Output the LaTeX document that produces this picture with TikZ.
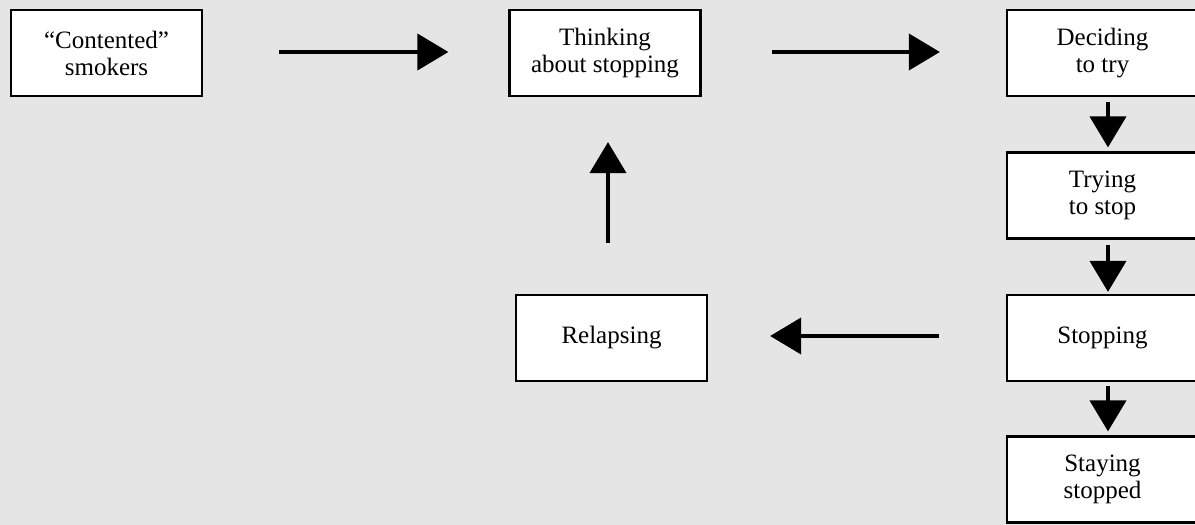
\documentclass[tikz,border=0pt]{standalone}
\usepackage{fontspec}
\setmainfont{Liberation Serif}
\usetikzlibrary{arrows.meta}
\definecolor{bg}{HTML}{E5E5E5}
\tikzset{
  stage/.style={draw=black, line width=2.2pt, fill=white, minimum width=191pt, minimum height=86pt,
    inner sep=0pt, align=center, font=\fontsize{25}{27}\selectfont},
  flow/.style={line width=4pt, -{Triangle[length=31pt,width=36pt]}}
}
\begin{document}
\begin{tikzpicture}[x=1pt,y=-1pt]
\fill[bg] (0,0) rectangle (1195,525);
\useasboundingbox (0,0) rectangle (1195,525);
\node[stage] (cont) at (106.5,53) {“Contented”\\smokers};
\node[stage] (think) at (605,53) {Thinking\\about stopping};
\node[stage] (decide) at (1102.5,53) {Deciding\\to try};
\node[stage] (trying) at (1102.5,195.5) {Trying\\to stop};
\node[stage] (stop) at (1102.5,338) {Stopping};
\node[stage] (stay) at (1102.5,479.5) {Staying\\stopped};
\node[stage] (relapse) at (611.5,338) {Relapsing};
\draw[flow, shorten <=76pt, shorten >=60pt] ([yshift=1pt]cont.east) -- ([yshift=1pt]think.west);
\draw[flow, shorten <=70pt, shorten >=66pt] ([yshift=1pt]think.east) -- ([yshift=1pt]decide.west);
\draw[flow, shorten <=5pt, shorten >=4pt] ([xshift=5.5pt]decide.south) -- ([xshift=5.5pt]trying.north);
\draw[flow, shorten <=5pt, shorten >=2pt] ([xshift=5.5pt]trying.south) -- ([xshift=5.5pt]stop.north);
\draw[flow, shorten <=4pt, shorten >=4pt] ([xshift=5.5pt]stop.south) -- ([xshift=5.5pt]stay.north);
\draw[flow, shorten <=67pt, shorten >=62pt] ([yshift=2pt]stop.west) -- ([yshift=2pt]relapse.east);
\draw[flow, shorten <=51pt, shorten >=45pt] ([xshift=-3.5pt]relapse.north) -- ([xshift=3pt]think.south);
\end{tikzpicture}
\end{document}
